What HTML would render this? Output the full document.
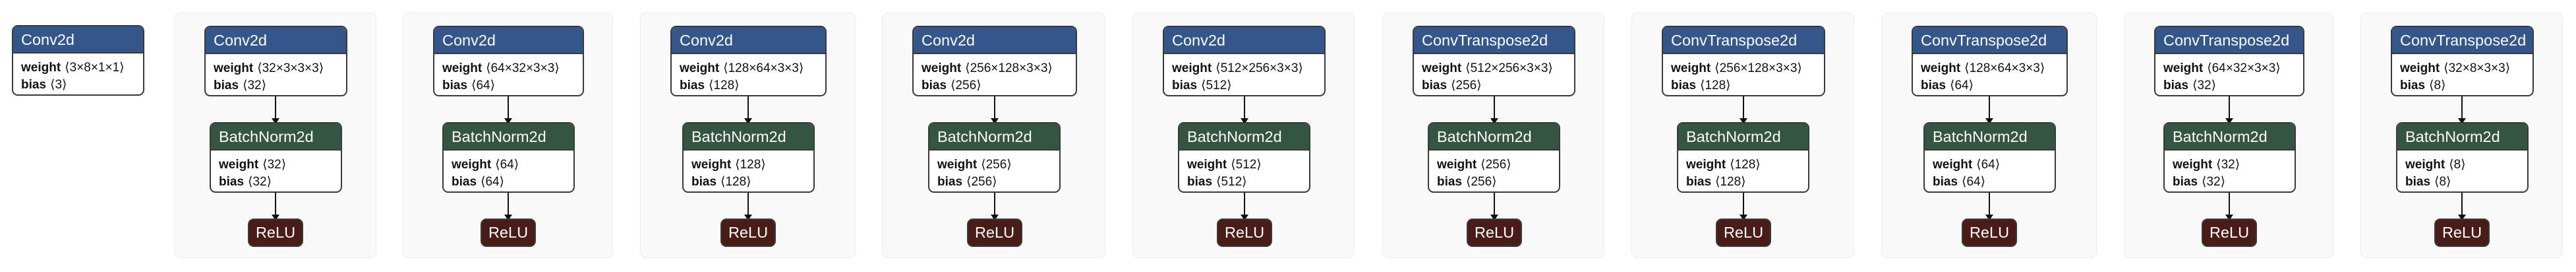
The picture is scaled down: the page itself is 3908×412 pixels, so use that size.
<!DOCTYPE html>
<html><head><meta charset="utf-8"><style>
body{margin:0;width:3908px;height:412px;background:#fff;position:relative;overflow:hidden;font-family:"Liberation Sans","DejaVu Sans",sans-serif;}
.cl{position:absolute;top:19px;height:372px;background:#f9f9f9;border:1.5px solid #ececec;border-radius:10px;box-sizing:border-box;}
.n{position:absolute;box-sizing:border-box;border:2px solid #3a3a3a;border-radius:9px;background:#fff;overflow:hidden;}
.h{height:41px;box-sizing:border-box;border-bottom:2px solid #3a3a3a;color:#fff;font-size:23.5px;line-height:40px;padding-left:12px;white-space:nowrap;}
.blue{background:#34568b}.green{background:#345541}
.b{padding:9px 0 0 12px;font-size:19px;line-height:26px;color:#111;white-space:nowrap;}
.b b{font-weight:bold;margin-right:6px}
.a{position:absolute;width:2px;background:#111;height:34px;}
.a:after{content:"";position:absolute;left:-5px;bottom:-8px;border-left:6px solid transparent;border-right:6px solid transparent;border-top:9px solid #111;}
.r{position:absolute;top:311px;width:84px;height:43px;box-sizing:border-box;border:2px solid #3a3a3a;border-radius:9px;background:#4a1c17;color:#fff;font-size:23.5px;line-height:39px;text-align:center;}
</style></head><body>

<div class="n" style="left:18px;top:38px;width:201px;height:107px"><div class="h blue">Conv2d</div><div class="b"><b>weight</b>⟨3×8×1×1⟩<br><b>bias</b>⟨3⟩</div></div>

<div class="cl" style="left:264px;width:307px">
<div class="n" style="left:45px;top:19px;width:217px;height:107px"><div class="h blue">Conv2d</div><div class="b"><b>weight</b>⟨32×3×3×3⟩<br><b>bias</b>⟨32⟩</div></div>
<div class="a" style="left:152px;top:126px"></div>
<div class="n" style="left:53px;top:165px;width:201px;height:107px"><div class="h green">BatchNorm2d</div><div class="b"><b>weight</b>⟨32⟩<br><b>bias</b>⟨32⟩</div></div>
<div class="a" style="left:152px;top:272px"></div>
<div class="r" style="left:111px">ReLU</div>
</div>

<div class="cl" style="left:611px;width:319px">
<div class="n" style="left:45px;top:19px;width:229px;height:107px"><div class="h blue">Conv2d</div><div class="b"><b>weight</b>⟨64×32×3×3⟩<br><b>bias</b>⟨64⟩</div></div>
<div class="a" style="left:158px;top:126px"></div>
<div class="n" style="left:59px;top:165px;width:201px;height:107px"><div class="h green">BatchNorm2d</div><div class="b"><b>weight</b>⟨64⟩<br><b>bias</b>⟨64⟩</div></div>
<div class="a" style="left:158px;top:272px"></div>
<div class="r" style="left:117px">ReLU</div>
</div>

<div class="cl" style="left:971px;width:327px">
<div class="n" style="left:45px;top:19px;width:237px;height:107px"><div class="h blue">Conv2d</div><div class="b"><b>weight</b>⟨128×64×3×3⟩<br><b>bias</b>⟨128⟩</div></div>
<div class="a" style="left:162px;top:126px"></div>
<div class="n" style="left:63px;top:165px;width:201px;height:107px"><div class="h green">BatchNorm2d</div><div class="b"><b>weight</b>⟨128⟩<br><b>bias</b>⟨128⟩</div></div>
<div class="a" style="left:162px;top:272px"></div>
<div class="r" style="left:121px">ReLU</div>
</div>

<div class="cl" style="left:1338px;width:339px">
<div class="n" style="left:45px;top:19px;width:250px;height:107px"><div class="h blue">Conv2d</div><div class="b"><b>weight</b>⟨256×128×3×3⟩<br><b>bias</b>⟨256⟩</div></div>
<div class="a" style="left:169px;top:126px"></div>
<div class="n" style="left:69px;top:165px;width:201px;height:107px"><div class="h green">BatchNorm2d</div><div class="b"><b>weight</b>⟨256⟩<br><b>bias</b>⟨256⟩</div></div>
<div class="a" style="left:169px;top:272px"></div>
<div class="r" style="left:128px">ReLU</div>
</div>

<div class="cl" style="left:1718px;width:337px">
<div class="n" style="left:45px;top:19px;width:247px;height:107px"><div class="h blue">Conv2d</div><div class="b"><b>weight</b>⟨512×256×3×3⟩<br><b>bias</b>⟨512⟩</div></div>
<div class="a" style="left:168px;top:126px"></div>
<div class="n" style="left:68px;top:165px;width:201px;height:107px"><div class="h green">BatchNorm2d</div><div class="b"><b>weight</b>⟨512⟩<br><b>bias</b>⟨512⟩</div></div>
<div class="a" style="left:168px;top:272px"></div>
<div class="r" style="left:127px">ReLU</div>
</div>

<div class="cl" style="left:2097px;width:337px">
<div class="n" style="left:45px;top:19px;width:247px;height:107px"><div class="h blue">ConvTranspose2d</div><div class="b"><b>weight</b>⟨512×256×3×3⟩<br><b>bias</b>⟨256⟩</div></div>
<div class="a" style="left:168px;top:126px"></div>
<div class="n" style="left:68px;top:165px;width:201px;height:107px"><div class="h green">BatchNorm2d</div><div class="b"><b>weight</b>⟨256⟩<br><b>bias</b>⟨256⟩</div></div>
<div class="a" style="left:168px;top:272px"></div>
<div class="r" style="left:127px">ReLU</div>
</div>

<div class="cl" style="left:2475px;width:338px">
<div class="n" style="left:45px;top:19px;width:248px;height:107px"><div class="h blue">ConvTranspose2d</div><div class="b"><b>weight</b>⟨256×128×3×3⟩<br><b>bias</b>⟨128⟩</div></div>
<div class="a" style="left:168px;top:126px"></div>
<div class="n" style="left:68px;top:165px;width:201px;height:107px"><div class="h green">BatchNorm2d</div><div class="b"><b>weight</b>⟨128⟩<br><b>bias</b>⟨128⟩</div></div>
<div class="a" style="left:168px;top:272px"></div>
<div class="r" style="left:127px">ReLU</div>
</div>

<div class="cl" style="left:2854px;width:327px">
<div class="n" style="left:45px;top:19px;width:237px;height:107px"><div class="h blue">ConvTranspose2d</div><div class="b"><b>weight</b>⟨128×64×3×3⟩<br><b>bias</b>⟨64⟩</div></div>
<div class="a" style="left:162px;top:126px"></div>
<div class="n" style="left:63px;top:165px;width:201px;height:107px"><div class="h green">BatchNorm2d</div><div class="b"><b>weight</b>⟨64⟩<br><b>bias</b>⟨64⟩</div></div>
<div class="a" style="left:162px;top:272px"></div>
<div class="r" style="left:121px">ReLU</div>
</div>

<div class="cl" style="left:3222px;width:318px">
<div class="n" style="left:45px;top:19px;width:228px;height:107px"><div class="h blue">ConvTranspose2d</div><div class="b"><b>weight</b>⟨64×32×3×3⟩<br><b>bias</b>⟨32⟩</div></div>
<div class="a" style="left:158px;top:126px"></div>
<div class="n" style="left:59px;top:165px;width:201px;height:107px"><div class="h green">BatchNorm2d</div><div class="b"><b>weight</b>⟨32⟩<br><b>bias</b>⟨32⟩</div></div>
<div class="a" style="left:158px;top:272px"></div>
<div class="r" style="left:117px">ReLU</div>
</div>

<div class="cl" style="left:3581px;width:307px">
<div class="n" style="left:45px;top:19px;width:217px;height:107px"><div class="h blue">ConvTranspose2d</div><div class="b"><b>weight</b>⟨32×8×3×3⟩<br><b>bias</b>⟨8⟩</div></div>
<div class="a" style="left:152px;top:126px"></div>
<div class="n" style="left:53px;top:165px;width:201px;height:107px"><div class="h green">BatchNorm2d</div><div class="b"><b>weight</b>⟨8⟩<br><b>bias</b>⟨8⟩</div></div>
<div class="a" style="left:152px;top:272px"></div>
<div class="r" style="left:111px">ReLU</div>
</div>

</body></html>
